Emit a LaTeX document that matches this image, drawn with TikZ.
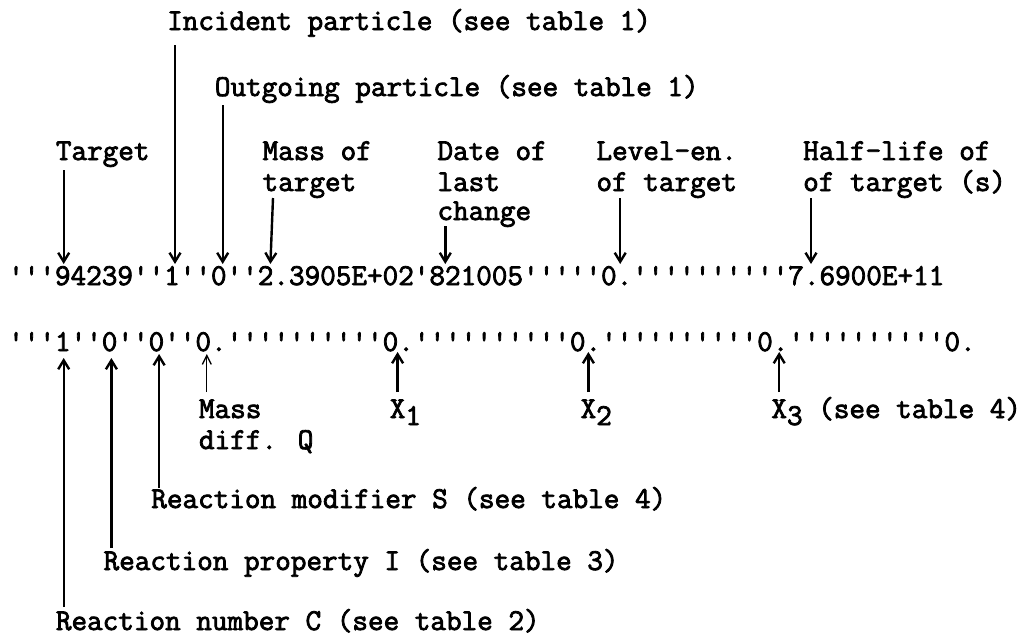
\documentclass[tikz,border=0pt]{standalone}
\usepackage{fontspec}
\newfontfamily\twfont{Latin Modern Mono}[FakeBold=2.6]
\usetikzlibrary{arrows.meta}
\begin{document}
\begin{tikzpicture}[x=1pt,y=-1pt,
  txt/.style={anchor=base west, inner sep=0pt, font=\twfont\fontsize{30.3}{34}\selectfont},
  arr/.style={line width=2.4pt, -{Straight Barb[length=9pt,width=11pt,line width=2.4pt]}},
  thinarr/.style={line width=1.3pt, -{Straight Barb[length=9pt,width=9pt,line width=1.3pt]}}]
\useasboundingbox (0,0) rectangle (1031,637);
% column x: 8+15.9*c
% labels above
\node[txt] (inc) at ({8+15.9*10},30) {Incident particle (see table 1)};
\node[txt] (out) at ({8+15.9*13},96) {Outgoing particle (see table 1)};
\node[txt] (tgt) at ({8+15.9*3},160) {Target};
\node[txt] (massA) at ({8+15.9*16},160) {Mass of};
\node[txt] (massB) at ({8+15.9*16},191) {target};
\node[txt] (dateA) at ({8+15.9*27},160) {Date of};
\node[txt] (dateB) at ({8+15.9*27},191) {last};
\node[txt] (dateC) at ({8+15.9*27},220) {change};
\node[txt] (levA) at ({8+15.9*37},160) {Level-en.};
\node[txt] (levB) at ({8+15.9*37},191) {of target};
\node[txt] (halfA) at ({8+15.9*50},160) {Half-life of};
\node[txt] (halfB) at ({8+15.9*50},191) {of target (s)};
% data rows
\node[txt] (row1) at (8,285) {'''94239''1''0''2.3905E+02'821005'''''0.''''''''''7.6900E+11};
\node[txt] (row2) at (8,351) {'''1''0''0''0.''''''''''0.''''''''''0.''''''''''0.''''''''''0.};
% labels below
\node[txt] (mq1) at ({8+15.9*12},418) {Mass};
\node[txt] (mq2) at ({8+15.9*12},449) {diff. Q};
\node[txt] (x1) at ({8+15.9*24},418) {X\raisebox{-7pt}{1}};
\node[txt] (x2) at ({8+15.9*36},418) {X\raisebox{-7pt}{2}};
\node[txt] (x3) at ({8+15.9*48},418) {X\raisebox{-7pt}{3} (see table 4)};
\node[txt] (mod) at ({8+15.9*9},508) {Reaction modifier S (see table 4)};
\node[txt] (prop) at ({8+15.9*6},570) {Reaction property I (see table 3)};
\node[txt] (num) at ({8+15.9*3},630) {Reaction number C (see table 2)};
% arrow end points (top)
\coordinate (tgtS) at (63.7,170);   \coordinate (tgtE) at (63.7,264);
\coordinate (incS) at (175,45);     \coordinate (incE) at (175,264);
\coordinate (outS) at (222.7,105);  \coordinate (outE) at (222.7,264);
\coordinate (masS) at (273,198);    \coordinate (masE) at (270.4,264);
\coordinate (datS) at (445.3,226);  \coordinate (datE) at (445.3,264);
\coordinate (levS) at (620.2,198);  \coordinate (levE) at (620.2,264);
\coordinate (halS) at (811,198);    \coordinate (halE) at (811,264);
% arrow end points (bottom)
\coordinate (numS) at (63.7,607);   \coordinate (numE) at (63.7,358);
\coordinate (prpS) at (111.4,548);  \coordinate (prpE) at (111.4,358);
\coordinate (modS) at (159.1,488);  \coordinate (modE) at (159.1,354);
\coordinate (mqS) at (206.8,392);   \coordinate (mqE) at (206.8,354);
\coordinate (x1S) at (397.6,392);   \coordinate (x1E) at (397.6,352);
\coordinate (x2S) at (588.4,392);   \coordinate (x2E) at (588.4,352);
\coordinate (x3S) at (779.2,392);   \coordinate (x3E) at (779.2,352);
\draw[arr] (tgtS) -- (tgtE);
\draw[arr] (incS) -- (incE);
\draw[arr] (outS) -- (outE);
\draw[arr] (masS) -- (masE);
\draw[arr] (datS) -- (datE);
\draw[arr] (levS) -- (levE);
\draw[arr] (halS) -- (halE);
\draw[arr] (numS) -- (numE);
\draw[arr] (prpS) -- (prpE);
\draw[arr] (modS) -- (modE);
\draw[thinarr] (mqS) -- (mqE);
\draw[arr] (x1S) -- (x1E);
\draw[arr] (x2S) -- (x2E);
\draw[arr] (x3S) -- (x3E);
\end{tikzpicture}
\end{document}
